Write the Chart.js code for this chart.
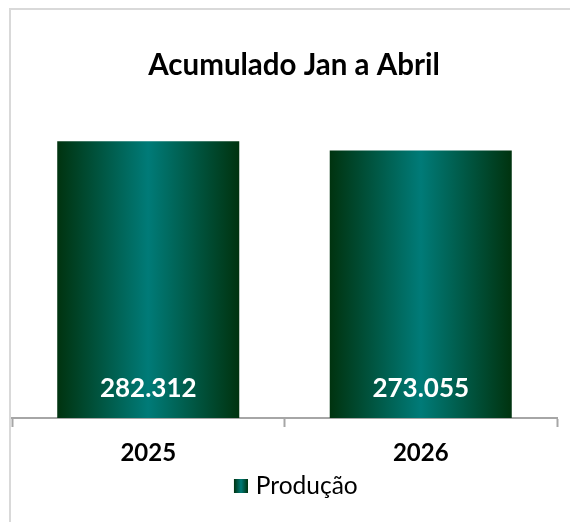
<!DOCTYPE html>
<html>
<head>
<meta charset="utf-8">
<script src="https://cdn.jsdelivr.net/npm/chart.js@4.4.1/dist/chart.umd.min.js"></script>
<style>
  html, body { margin: 0; padding: 0; background: #ffffff; }
  #wrap { position: relative; width: 570px; height: 522px; }
</style>
</head>
<body>
<div id="wrap"><canvas id="c" width="570" height="522"></canvas></div>
<script>
// Accumulated production, January to April
const categories = ['2025', '2026'];
const producao = [282312, 273055];
const seriesName = 'Produção';
const chartTitle = 'Acumulado Jan a Abril';

const FONT = 'Lato, "Open Sans", "DejaVu Sans", sans-serif';
const EDGE = '#00330f';
const MID = '#007b78';
const BAR_PCT = 0.668;

function fmt(v) {
  return String(v).replace(/\B(?=(\d{3})+(?!\d))/g, '.');
}

function addStops(g) {
  g.addColorStop(0, EDGE);
  g.addColorStop(0.5, MID);
  g.addColorStop(1, EDGE);
  return g;
}

// legend swatch: 14px shaded square at the right end of a transparent strip
const swatch = document.createElement('canvas');
swatch.width = 22; swatch.height = 14;
(function () {
  const sctx = swatch.getContext('2d');
  sctx.fillStyle = addStops(sctx.createLinearGradient(8, 0, 22, 0));
  sctx.fillRect(8, 0, 14, 14);
})();

function barFill(context) {
  const chart = context.chart;
  const xs = chart.scales.x;
  if (!chart.chartArea || !xs) return MID;
  const cx = xs.getPixelForValue(context.dataIndex);
  const half = (xs.width / categories.length) * BAR_PCT / 2;
  return addStops(chart.ctx.createLinearGradient(cx - half, 0, cx + half, 0));
}

// outer frame line
const framePlugin = {
  id: 'frame',
  beforeDraw(chart) {
    const ctx = chart.ctx;
    ctx.save();
    ctx.fillStyle = '#ffffff';
    ctx.fillRect(0, 0, chart.width, chart.height);
    ctx.strokeStyle = '#d9d9d9';
    ctx.lineWidth = 2;
    ctx.strokeRect(10, 9, chart.width + 20, chart.height + 20);
    ctx.restore();
  }
};

// value labels inside the bars, near the base
const valueLabels = {
  id: 'valueLabels',
  afterDatasetsDraw(chart) {
    const ctx = chart.ctx;
    const meta = chart.getDatasetMeta(0);
    ctx.save();
    ctx.fillStyle = '#ffffff';
    ctx.font = 'bold 26px ' + FONT;
    ctx.textAlign = 'center';
    ctx.textBaseline = 'middle';
    meta.data.forEach((bar, i) => {
      ctx.fillText(fmt(producao[i]), bar.x, bar.base - 29);
    });
    ctx.restore();
  }
};

new Chart(document.getElementById('c'), {
  type: 'bar',
  data: {
    labels: categories,
    datasets: [{
      label: seriesName,
      data: producao,
      backgroundColor: barFill,
      borderWidth: 0,
      categoryPercentage: 1,
      barPercentage: BAR_PCT
    }]
  },
  options: {
    responsive: false,
    animation: false,
    devicePixelRatio: 1,
    layout: { padding: { left: 12, right: -6, top: 10, bottom: 13.75 } },
    plugins: {
      title: {
        display: true,
        text: chartTitle,
        color: '#000000',
        font: { family: FONT, size: 29.5, weight: 'bold', lineHeight: 1.2 },
        padding: { top: 37.3, bottom: 41.3 }
      },
      legend: {
        display: true,
        position: 'bottom',
        labels: {
          usePointStyle: true,
          pointStyle: swatch,
          pointStyleWidth: 13.25,
          color: '#000000',
          font: { family: FONT, size: 24.5 },
          padding: 0
        }
      },
      tooltip: { enabled: false }
    },
    scales: {
      x: {
        grid: {
          display: true,
          drawOnChartArea: false,
          drawTicks: true,
          tickLength: 9,
          tickWidth: 2,
          tickColor: '#a6a6a6',
          offset: true
        },
        border: { display: true, color: '#a6a6a6', width: 2 },
        ticks: {
          color: '#000000',
          font: { family: FONT, size: 24, weight: 'bold', lineHeight: 1.2 },
          padding: 11.6
        },
        afterFit(scale) { scale.height -= 5.25; }
      },
      y: {
        display: true,
        position: 'right',
        min: 0,
        max: 300000,
        grid: { display: false, drawTicks: false },
        border: { display: false },
        ticks: { display: false },
        afterFit(scale) { scale.width = 19; }
      }
    }
  },
  plugins: [framePlugin, valueLabels]
});
</script>
</body>
</html>
